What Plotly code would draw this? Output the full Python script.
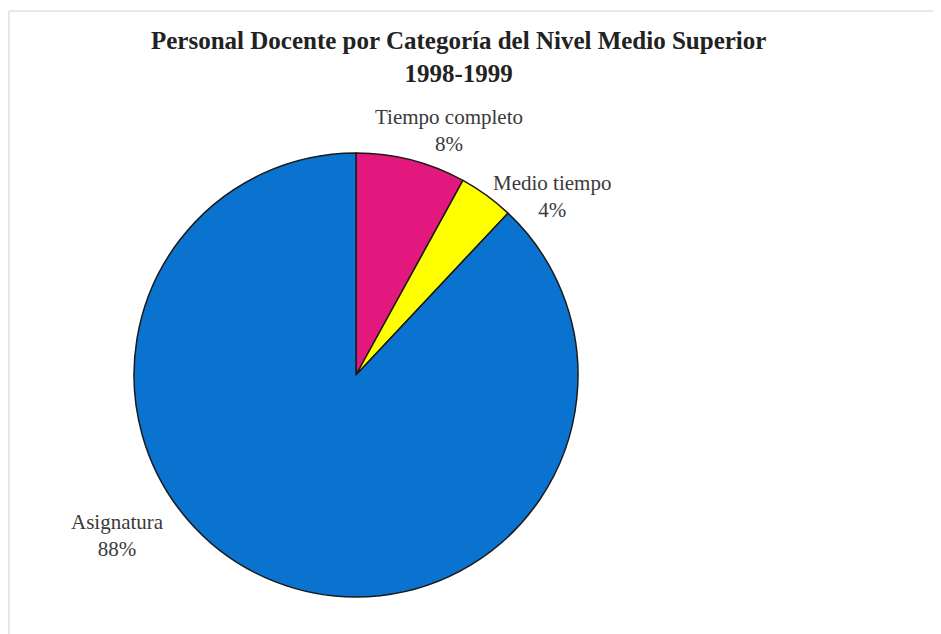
import plotly.graph_objects as go

# data
categorias = ["Tiempo completo", "Medio tiempo", "Asignatura"]
porcentajes = [8, 4, 88]
colores = ["#E2187F", "#FFFF00", "#0A73CF"]

W, H = 941, 634
OFF = 7  # page offset of the plot div in the browser


def px(x):
    return (x - OFF) / W


def py(y):
    return 1 - (y - OFF) / H


# where each label sits (target pixel centres)
label_px = [448, 551, 116]
label_py = [129, 196, 534]

fig = go.Figure()

fig.add_trace(
    go.Pie(
        labels=categorias,
        values=porcentajes,
        marker=dict(colors=colores, line=dict(color="#1a1a1a", width=1.5)),
        sort=False,
        direction="clockwise",
        rotation=0,
        textinfo="none",
        hoverinfo="label+percent",
        showlegend=False,
        domain=dict(x=[px(133), px(577)], y=[py(596), py(152)]),
    )
)

for i in range(len(categorias)):
    fig.add_annotation(
        x=px(label_px[i]),
        y=py(label_py[i]),
        xref="paper",
        yref="paper",
        xanchor="center",
        yanchor="middle",
        text="{}<br>{}%".format(categorias[i], porcentajes[i]),
        showarrow=False,
        align="center",
        font=dict(family="Liberation Serif", size=21, color="#3a3a3a"),
    )

fig.add_annotation(
    x=px(457),
    y=py(56),
    xref="paper",
    yref="paper",
    xanchor="center",
    yanchor="middle",
    text="<b>Personal Docente por Categoría del Nivel Medio Superior<br>1998-1999</b>",
    showarrow=False,
    align="center",
    font=dict(family="Liberation Serif", size=25, color="#222222"),
)

# faint frame of the original sheet
fig.add_shape(
    type="rect",
    xref="paper",
    yref="paper",
    x0=0.001,
    x1=1.02,
    y0=-0.02,
    y1=py(10),
    line=dict(color="#cfd3cf", width=1),
)

fig.update_layout(
    width=W,
    height=H,
    margin=dict(l=0, r=0, t=0, b=0),
    paper_bgcolor="white",
    plot_bgcolor="white",
)

fig.write_html("out.html")
